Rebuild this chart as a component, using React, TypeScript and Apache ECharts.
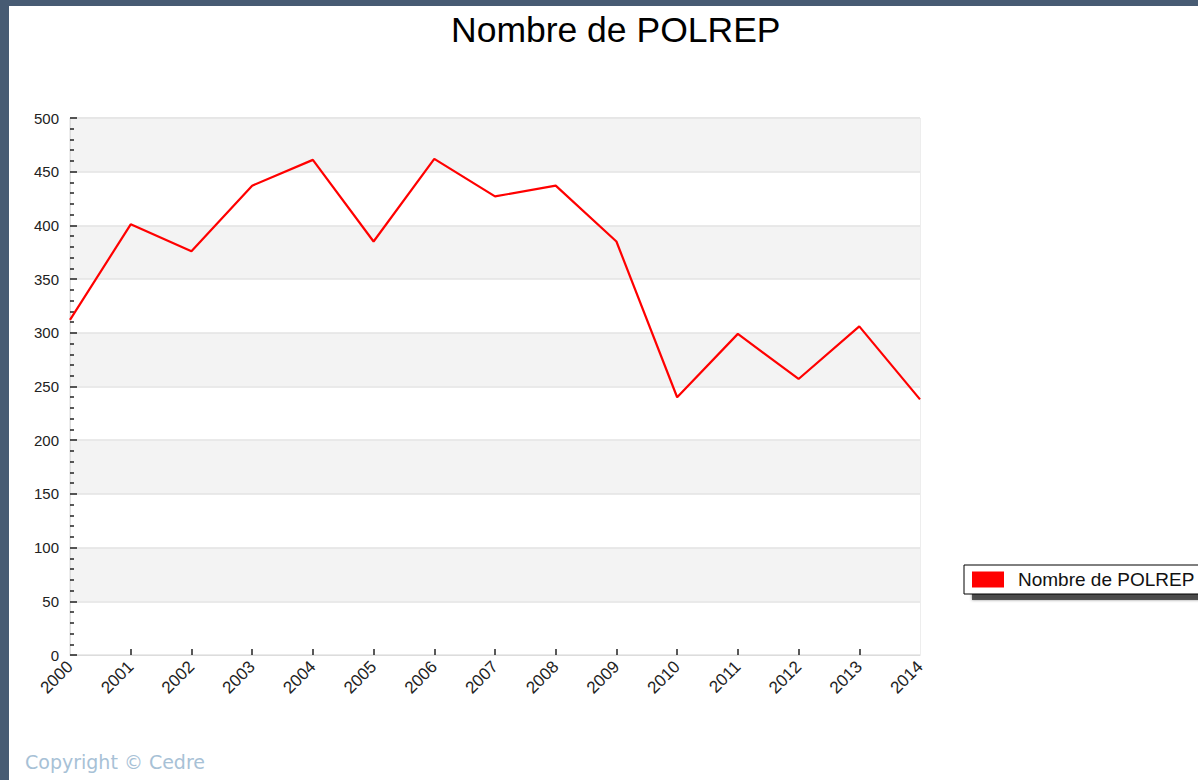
import React, { useEffect, useRef } from "react";
import * as echarts from "echarts";

const years = ["2000","2001","2002","2003","2004","2005","2006","2007","2008","2009","2010","2011","2012","2013","2014"];
const polrep = [312, 401, 376, 437, 461, 385, 462, 427, 437, 385, 240, 299, 257, 306, 238];
const seriesName = "Nombre de POLREP";
const titleText = "Nombre de POLREP";
const copyrightText = "Copyright © Cedre";

export default function App() {
  const ref = useRef<HTMLDivElement>(null);
  useEffect(() => {
    if (!ref.current) return;
    const chart = echarts.init(ref.current, null, { renderer: "svg" });
    chart.setOption({
      animation: false,
      backgroundColor: "#ffffff",
      title: {
        text: titleText,
        left: 451,
        top: 12,
        padding: 0,
        textStyle: { fontFamily: "Liberation Sans", fontWeight: "normal", fontSize: 35.5, color: "#000" },
      },
      legend: {
        left: 964,
        top: 565,
        orient: "horizontal",
        padding: [5, 40, 5, 8],
        icon: "rect",
        itemWidth: 32,
        itemHeight: 16,
        backgroundColor: "#ffffff",
        borderColor: "#000",
        borderWidth: 1,
        borderRadius: 0,
        textStyle: { fontFamily: "Liberation Sans", fontSize: 19, color: "#111", padding: [0, 0, 0, 9] },
        data: [seriesName],
      },
      grid: {
        left: 70,
        top: 118,
        right: 278,
        bottom: 125,
        show: true,
        borderColor: "#dcdcdc",
        borderWidth: 1,
        backgroundColor: "transparent",
      },
      xAxis: {
        type: "category",
        data: years,
        boundaryGap: false,
        axisLine: { show: true, lineStyle: { color: "#dcdcdc", width: 1 } },
        axisTick: {
          show: true,
          inside: true,
          length: 6,
          interval: (i: number) => i !== 0 && i !== years.length - 1,
          lineStyle: { color: "#222", width: 1.5 },
        },
        axisLabel: {
          rotate: 45,
          interval: 0,
          margin: 9,
          fontFamily: "Liberation Sans",
          fontSize: 17,
          color: "#222",
        },
        splitLine: { show: false },
      },
      yAxis: {
        type: "value",
        min: 0,
        max: 500,
        interval: 50,
        axisLine: { show: true, lineStyle: { color: "#dcdcdc", width: 1 } },
        axisTick: { show: true, inside: true, length: 7, lineStyle: { color: "#222", width: 1.5 } },
        minorTick: { show: true, splitNumber: 5, length: 4, lineStyle: { color: "#222", width: 1.5 } },
        axisLabel: { margin: 11, fontFamily: "Liberation Sans", fontSize: 15, color: "#222" },
        splitLine: { show: true, lineStyle: { color: "#e3e3e3", width: 1.5 } },
        splitArea: { show: true, areaStyle: { color: ["#ffffff", "#f3f3f3"] } },
      },
      series: [
        {
          name: seriesName,
          type: "line",
          data: polrep,
          showSymbol: false,
          symbol: "none",
          color: "#ff0000",
          lineStyle: { color: "#ff0000", width: 2.2 },
          itemStyle: { color: "#ff0000" },
        },
      ],
      graphic: [
        { type: "rect", left: 0, top: 0, z: 100, shape: { width: 1198, height: 6 }, style: { fill: "#475b73" } },
        { type: "rect", left: 0, top: 0, z: 100, shape: { width: 9, height: 780 }, style: { fill: "#475b73" } },
        {
          type: "rect",
          left: 972,
          top: 571,
          z: -1,
          shape: { width: 300, height: 29 },
          style: { fill: "rgba(60,60,60,0.85)", shadowBlur: 3, shadowColor: "rgba(0,0,0,0.5)" },
        },
        {
          type: "text",
          left: 25,
          top: 752,
          z: 100,
          style: { text: copyrightText, fontFamily: "DejaVu Sans", fontSize: 19, fill: "#a7c1d6" },
        },
      ],
    });
    return () => chart.dispose();
  }, []);
  return <div ref={ref} style={{ position: "fixed", left: 0, top: 0, width: 1198, height: 780 }} />;
}
